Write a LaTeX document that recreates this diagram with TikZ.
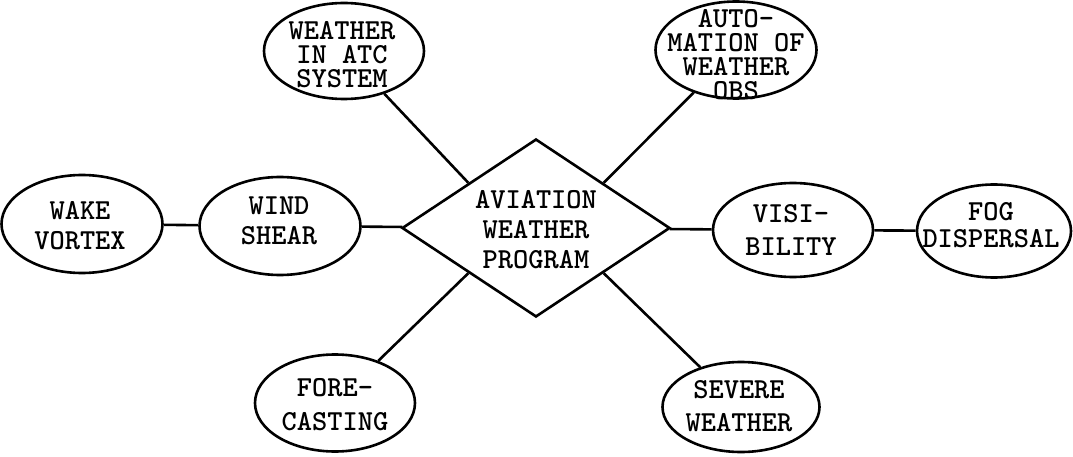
\documentclass[tikz,border=0pt]{standalone}
\usepackage{fontspec}
\usetikzlibrary{shapes.geometric,calc}
\newcommand{\twf}[2]{\ttfamily\bfseries\fontsize{#1}{#2}\selectfont}
\tikzset{
  ell/.style={draw, ellipse, line width=2.6pt, inner sep=0pt},
  lbl/.style={font=\twf{29}{30}, align=center, inner sep=0pt},
  tight/.style={font=\twf{29}{24}},
  conn/.style={line width=2.6pt},
}
\begin{document}
\begin{tikzpicture}[x=1pt,y=-1pt]
\useasboundingbox (0,0) rectangle (1073,457);
% central diamond
\node[draw, diamond, line width=2.6pt, minimum width=268pt, minimum height=178pt, inner sep=0pt, aspect=1.5] (dia) at (536,228) {};
\node[lbl] (diat) at (536,230) {AVIATION\\WEATHER\\PROGRAM};
% ellipses
\node[ell, minimum width=161pt, minimum height=98pt] (wake) at (82,224) {};
\node[ell, minimum width=161pt, minimum height=98pt] (wind) at (280,226) {};
\node[ell, minimum width=160pt, minimum height=96pt] (atc) at (344,51) {};
\node[ell, minimum width=161pt, minimum height=97pt] (auto) at (736,50) {};
\node[ell, minimum width=160pt, minimum height=94pt] (vis) at (793,230) {};
\node[ell, minimum width=154pt, minimum height=93pt] (fog) at (994,231) {};
\node[ell, minimum width=160pt, minimum height=97pt] (fore) at (335,403) {};
\node[ell, minimum width=157pt, minimum height=90pt] (sev) at (741,407) {};
% texts
\node[lbl] (waket) at (80,226) {WAKE\\VORTEX};
\node[lbl] (windt) at (279,221) {WIND\\SHEAR};
\node[lbl, tight] (atct) at (342,55) {WEATHER\\IN ATC\\SYSTEM};
\node[lbl, tight] (autot) at (736,55) {AUTO-\\MATION OF\\WEATHER\\OBS};
\node[lbl, font=\twf{29}{33}] (vist) at (791,230) {VISI-\\BILITY};
\node[lbl, font=\twf{29}{27}] (fogt) at (991,225) {FOG\\DISPERSAL};
\node[lbl, font=\twf{29}{34}] (foret) at (335,405) {FORE-\\CASTING};
\node[lbl, font=\twf{29}{33}] (sevt) at (739,406) {SEVERE\\WEATHER};
% connectors
\draw[conn] (wake) -- (wind);
\draw[conn] (wind) -- (dia);
\draw[conn] (dia) -- (vis);
\draw[conn] (vis) -- (fog);
\draw[conn] ($(dia.north)!0.5!(dia.west)$) -- (atc);
\draw[conn] ($(dia.north)!0.5!(dia.east)$) -- (auto);
\draw[conn] ($(dia.south)!0.5!(dia.west)$) -- (fore);
\draw[conn] ($(dia.south)!0.5!(dia.east)$) -- (sev);
\end{tikzpicture}
\end{document}
